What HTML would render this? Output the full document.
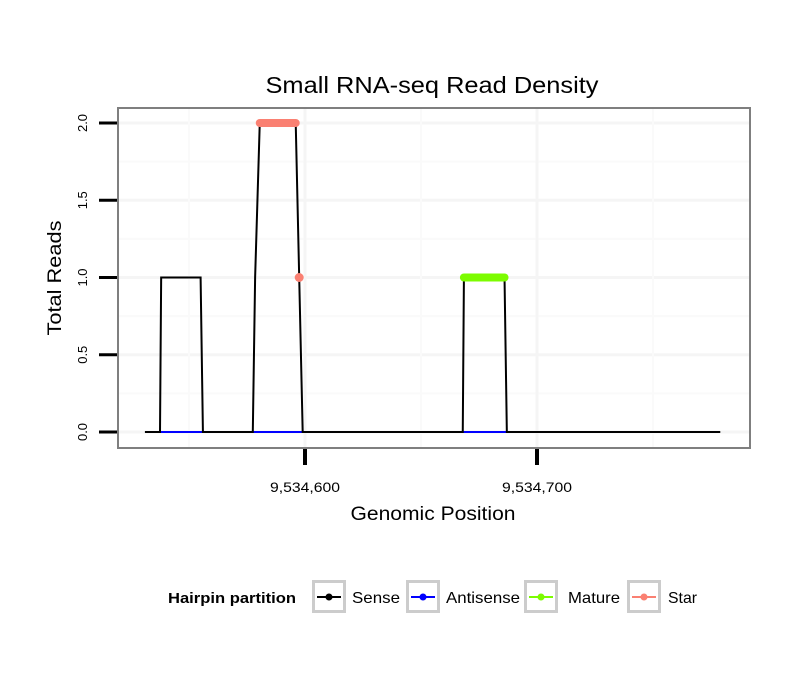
<!DOCTYPE html>
<html><head><meta charset="utf-8"><style>body{margin:0;background:#fff}svg text{font-family:"Liberation Sans",sans-serif}</style></head>
<body>
<svg id="c" width="810" height="690" xmlns="http://www.w3.org/2000/svg"></svg>
<script>
const senseXs=[31,37.5,38,55,56,77.5,78.5,80.5,96,97.5,99,168,168.5,186,187,279];
const senseY=[0,0,1,1,0,0,1,2,2,1,0,0,1,1,0,0];
const antiSegs=[[37.5,56],[77.5,99],[168,187]];
const starX=[80.5,96];const starY=[2,2];
const starPtX=[97.5];const starPtY=[1];
const matureX=[168.5,186];const matureY=[1,1];
const yTicks=[0,0.5,1,1.5,2];const yTickLabels=["0.0","0.5","1.0","1.5","2.0"];
const xTicks=[100,200];const xTickLabels=["9,534,600","9,534,700"];
const xMinor=[50,150,250];
const L=118,R=750,T=108,Bt=448;
const sx=v=>305+(v-100)*2.32;
const sy=v=>432-v*154.5;
const svg=document.getElementById('c');const NS='http://www.w3.org/2000/svg';
function el(t,a,p){const e=document.createElementNS(NS,t);for(const k in a)e.setAttribute(k,a[k]);(p||svg).appendChild(e);return e;}
let e;
e=el('rect',{x:L,y:T,width:R-L,height:Bt-T,fill:'#fff'});

[0.25,0.75,1.25,1.75].forEach(v=>{e=el('line',{x1:L,x2:R,y1:sy(v),y2:sy(v),stroke:'#fafafa','stroke-width':2});});
yTicks.forEach(v=>{e=el('line',{x1:L,x2:R,y1:sy(v),y2:sy(v),stroke:'#f5f5f5','stroke-width':3});});
xMinor.forEach(v=>{e=el('line',{x1:sx(v),x2:sx(v),y1:T,y2:Bt,stroke:'#fafafa','stroke-width':2});});
xTicks.forEach(v=>{e=el('line',{x1:sx(v),x2:sx(v),y1:T,y2:Bt,stroke:'#f5f5f5','stroke-width':3});});
antiSegs.forEach(s=>{e=el('line',{x1:sx(s[0]),x2:sx(s[1]),y1:sy(0),y2:sy(0),stroke:'#0000ff','stroke-width':2});});
e=el('polyline',{points:senseXs.map((x,i)=>sx(x)+','+sy(senseY[i])).join(' '),fill:'none',stroke:'#000','stroke-width':2});

e=el('line',{x1:sx(starX[0]),x2:sx(starX[1]),y1:sy(starY[0]),y2:sy(starY[1]),stroke:'#fa8072','stroke-width':8,'stroke-linecap':'round'});

starPtX.forEach((x,i)=>{e=el('circle',{cx:sx(x),cy:sy(starPtY[i]),r:4.5,fill:'#fa8072'});});
e=el('line',{x1:sx(matureX[0]),x2:sx(matureX[1]),y1:sy(matureY[0]),y2:sy(matureY[1]),stroke:'#7cfc00','stroke-width':8,'stroke-linecap':'round'});

e=el('rect',{x:L,y:T,width:R-L,height:Bt-T,fill:'none',stroke:'#7f7f7f','stroke-width':2});

yTicks.forEach((v,i)=>{e=el('line',{x1:99,x2:117,y1:sy(v),y2:sy(v),stroke:'#000','stroke-width':3});
e=el('text',{x:0,y:0,transform:`translate(87,${sy(v)}) rotate(-90)`,'text-anchor':'middle','font-size':13,fill:'#000'});e.textContent=yTickLabels[i];});
xTicks.forEach((v,i)=>{e=el('line',{x1:sx(v),x2:sx(v),y1:449,y2:465,stroke:'#000','stroke-width':4});
e=el('text',{x:sx(v),y:492,'text-anchor':'middle','font-size':14,textLength:70,lengthAdjust:'spacingAndGlyphs',fill:'#000'});e.textContent=xTickLabels[i];});
e=el('text',{x:432,y:93,'text-anchor':'middle','font-size':23,textLength:333,lengthAdjust:'spacingAndGlyphs',fill:'#000'});e.textContent='Small RNA-seq Read Density';
e=el('text',{x:433,y:520,'text-anchor':'middle','font-size':19,textLength:165,lengthAdjust:'spacingAndGlyphs',fill:'#000'});e.textContent='Genomic Position';
e=el('text',{x:0,y:0,transform:'translate(61,278) rotate(-90)','text-anchor':'middle','font-size':19,textLength:115,lengthAdjust:'spacingAndGlyphs',fill:'#000'});e.textContent='Total Reads';
e=el('text',{x:168,y:603,'font-size':15,'font-weight':'bold',textLength:128,lengthAdjust:'spacingAndGlyphs',fill:'#000'});e.textContent='Hairpin partition';
const leg=[['Sense','#000',312,352,48],['Antisense','#0000ff',406,446,74],['Mature','#7cfc00',524,568,52],['Star','#fa8072',627,668,29]];
leg.forEach(l=>{const g=el('g',{});
el('rect',{x:l[2]+1.5,y:581.5,width:31,height:30,fill:'#fff',stroke:'#cccccc','stroke-width':3},g);
el('line',{x1:l[2]+5,x2:l[2]+29,y1:597,y2:597,stroke:l[1],'stroke-width':2},g);
el('circle',{cx:l[2]+17,cy:597,r:3.5,fill:l[1]},g);
const t=el('text',{x:l[3],y:603,'font-size':16,textLength:l[4],lengthAdjust:'spacingAndGlyphs',fill:'#000'},g);t.textContent=l[0];});
</script>
</body></html>
